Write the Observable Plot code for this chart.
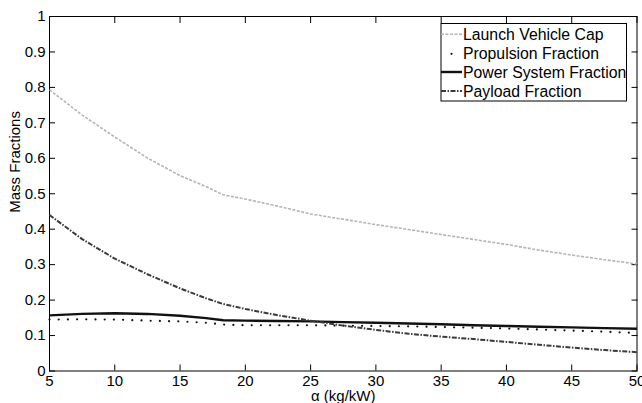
<!DOCTYPE html>
<html>
<head>
<meta charset="utf-8">
<script src="https://cdn.jsdelivr.net/npm/d3@7"></script>
<script src="https://cdn.jsdelivr.net/npm/@observablehq/plot@0.6"></script>
<style>
  html, body { margin: 0; padding: 0; background: #fff; }
  svg { display: block; }
</style>
</head>
<body>
<div id="chart"></div>
<script>
// ---- data ----
const alpha = [5, 7.5, 10, 12.5, 15, 17, 18.3, 20, 22.5, 25, 27.5, 30, 32.5, 35, 37.5, 40, 42.5, 45, 47.5, 50];
const launchVehicleCap = [0.793, 0.722, 0.66, 0.601, 0.551, 0.52, 0.497, 0.485, 0.465, 0.443, 0.428, 0.413, 0.399, 0.385, 0.371, 0.357, 0.341, 0.327, 0.314, 0.302];
const propulsionFraction = [0.145, 0.146, 0.145, 0.142, 0.14, 0.136, 0.131, 0.129, 0.129, 0.129, 0.128, 0.127, 0.126, 0.124, 0.122, 0.12, 0.117, 0.114, 0.111, 0.107];
const powerSystemFraction = [0.157, 0.161, 0.163, 0.161, 0.156, 0.149, 0.143, 0.142, 0.141, 0.14, 0.138, 0.136, 0.134, 0.132, 0.129, 0.127, 0.125, 0.123, 0.121, 0.119];
const payloadFraction = [0.44, 0.372, 0.317, 0.273, 0.233, 0.205, 0.189, 0.175, 0.157, 0.142, 0.128, 0.116, 0.105, 0.097, 0.09, 0.082, 0.074, 0.066, 0.059, 0.053];
const xTicks = [5, 10, 15, 20, 25, 30, 35, 40, 45, 50];
const yTicks = [0, 0.1, 0.2, 0.3, 0.4, 0.5, 0.6, 0.7, 0.8, 0.9, 1];
const seriesNames = ["Launch Vehicle Cap", "Propulsion Fraction", "Power System Fraction", "Payload Fraction"];
const xLabel = "\u03b1 (kg/kW)";
const yLabel = "Mass Fractions";

// ---- styles ----
const styles = [
  {stroke: "#b4b4b4", strokeWidth: 1.6, strokeDasharray: "3,1.5", strokeLinecap: "butt"},
  {stroke: "#111", strokeWidth: 2.2, strokeDasharray: "0,9.2", strokeLinecap: "round"},
  {stroke: "#111", strokeWidth: 2.4, strokeDasharray: null, strokeLinecap: "butt"},
  {stroke: "#3a3a3a", strokeWidth: 2, strokeDasharray: "5,1.5,1.5,1.5", strokeLinecap: "butt"}
];
const seriesValues = [launchVehicleCap, propulsionFraction, powerSystemFraction, payloadFraction];
const tables = seriesValues.map(vals => alpha.map((a, i) => ({alpha: a, value: vals[i]})));

const font = "'Liberation Sans', Arial, Helvetica, sans-serif";

const plot = Plot.plot({
  width: 642,
  height: 403,
  marginLeft: 49,
  marginRight: 5.5,
  marginTop: 16,
  marginBottom: 32.5,
  style: {fontFamily: font, fontSize: "15px", color: "#000", background: "#fff", overflow: "visible"},
  x: {domain: [5, 50]},
  y: {domain: [0, 1]},
  marks: [
    Plot.frame({stroke: "#000", strokeWidth: 1}),
    Plot.axisX({anchor: "bottom", ticks: xTicks, tickSize: -6, tickPadding: 10, label: null, tickFormat: d => String(d), fontSize: 15}),
    Plot.axisX({anchor: "top", ticks: xTicks, tickSize: -6, label: null, tickFormat: () => ""}),
    Plot.axisY({anchor: "left", ticks: yTicks, tickSize: -6, tickPadding: 10, label: null, tickFormat: d => String(+d.toFixed(1)), fontSize: 15}),
    Plot.axisY({anchor: "right", ticks: yTicks, tickSize: -6, label: null, tickFormat: () => ""}),
    ...tables.map((t, i) => Plot.line(t, {x: "alpha", y: "value", ...styles[i]})),
    Plot.text([xLabel], {frameAnchor: "bottom", dy: 25, lineAnchor: "middle", fontSize: 15, text: d => d}),
    Plot.text([yLabel], {frameAnchor: "left", rotate: -90, dx: -34, dy: 19, lineAnchor: "middle", fontSize: 15, text: d => d})
  ]
});

document.getElementById("chart").appendChild(plot);

// ---- legend (drawn inside the plot's SVG) ----
const svg = d3.select(plot);
const lg = svg.append("g").attr("font-family", font).attr("font-size", 15.8).attr("text-anchor", "start");
const box = {x: 441, y: 23.5, w: 185.5, h: 77.5};
lg.append("rect").attr("x", box.x).attr("y", box.y).attr("width", box.w).attr("height", box.h)
  .attr("fill", "#fff").attr("stroke", "#000").attr("stroke-width", 1);
const rowY = [34.3, 53.3, 72, 91];
seriesNames.forEach((name, i) => {
  const s = styles[i];
  const y = rowY[i];
  if (i === 1) {
    lg.append("circle").attr("cx", 451.5).attr("cy", y + 0.5).attr("r", 1.1).attr("fill", "#111");
  } else {
    lg.append("line").attr("x1", 441).attr("x2", 462).attr("y1", y).attr("y2", y)
      .attr("stroke", s.stroke).attr("stroke-width", s.strokeWidth)
      .attr("stroke-dasharray", s.strokeDasharray).attr("stroke-linecap", s.strokeLinecap);
  }
  lg.append("text").attr("x", 463).attr("y", y).attr("dy", "0.35em").attr("text-anchor", "start")
    .attr("fill", "#000").text(name);
});
</script>
</body>
</html>
